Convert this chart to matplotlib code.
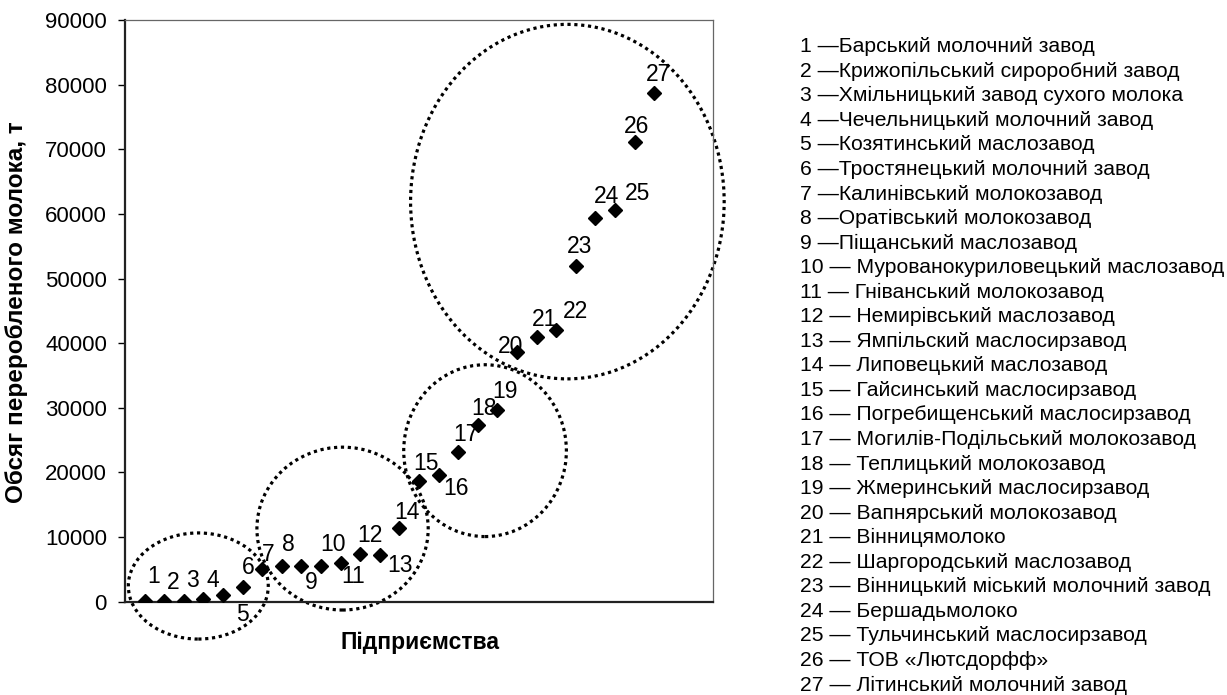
import matplotlib
matplotlib.use("Agg")
import matplotlib.pyplot as plt
from matplotlib.patches import Ellipse

plt.rcParams['font.family'] = ['Liberation Sans', 'DejaVu Sans']

# ---- data ----
plant_ids = list(range(1, 28))
milk_volume_t = [50, 80, 150, 400, 1100, 2200, 5100, 5500, 5500, 5550,
                 5950, 7350, 7300, 11400, 18600, 19600, 23100, 27300, 29700, 38600,
                 41000, 42100, 52000, 59300, 60600, 71100, 78700]
plant_names = [
    "Барський молочний завод",
    "Крижопільський сироробний завод",
    "Хмільницький завод сухого молока",
    "Чечельницький молочний завод",
    "Козятинський маслозавод",
    "Тростянецький молочний завод",
    "Калинівський молокозавод",
    "Оратівський молокозавод",
    "Піщанський маслозавод",
    "Мурованокуриловецький маслозавод",
    "Гніванський молокозавод",
    "Немирівський маслозавод",
    "Ямпільский маслосирзавод",
    "Липовецький маслозавод",
    "Гайсинський маслосирзавод",
    "Погребищенський маслосирзавод",
    "Могилів-Подільський молокозавод",
    "Теплицький молокозавод",
    "Жмеринський маслосирзавод",
    "Вапнярський молокозавод",
    "Вінницямолоко",
    "Шаргородський маслозавод",
    "Вінницький міський молочний завод",
    "Бершадьмолоко",
    "Тульчинський маслосирзавод",
    "ТОВ «Лютсдорфф»",
    "Літинський молочний завод",
]
y_ticks = [0, 10000, 20000, 30000, 40000, 50000, 60000, 70000, 80000, 90000]
y_label = "Обсяг переробленого молока, т"
x_label = "Підприємства"

# cluster ellipses (center x, center y, width, height) in data units
clusters = [
    (3.74, 2430, 7.14, 16420),
    (11.1, 11310, 8.74, 25200),
    (18.37, 23370, 8.3, 26590),
    (22.57, 61900, 16.0, 54850),
]

# label offsets in pixels (dx right, dy down)
label_offsets = [(9, -25), (9, -19), (9, -20), (9, -19), (19, 20), (6, -20),
                 (6, -14), (7, -22), (10, 16), (12, -21), (13, 13), (10, -19),
                 (20, 11), (8, -16), (7, -18), (17, 13), (8, -18), (6, -17),
                 (8, -18), (-6, -6), (8, -17), (19, -18), (4, -19), (11, -22),
                 (23, -17), (2, -16), (4, -19)]

W, H = 1227, 695
fig = plt.figure(figsize=(W / 100, H / 100), dpi=100)
ax = fig.add_axes([125 / W, (H - 601.7) / H, (713 - 125) / W, (601.7 - 20) / H])

ax.plot(plant_ids, milk_volume_t, linestyle='none', marker='D', markersize=7.2,
        color='black', zorder=3)

for pid, val, (dx, dy) in zip(plant_ids, milk_volume_t, label_offsets):
    ax.annotate(str(pid), (pid, val), xytext=(dx, -dy), textcoords='offset pixels',
                ha='center', va='center', fontsize=16.5, zorder=4,
                annotation_clip=False)

for cx, cy, w, h in clusters:
    e = Ellipse((cx, cy), w, h, fill=False, edgecolor='black', linewidth=2.3,
                linestyle=(0, (1.0, 1.15)), clip_on=False, zorder=2)
    e.set_capstyle('butt')
    ax.add_patch(e)

ax.set_xlim(0, 30)
ax.set_ylim(0, 90000)
ax.set_yticks(y_ticks)
ax.set_yticklabels([str(t) for t in y_ticks], fontsize=16)
ax.set_xticks([])
ax.tick_params(axis='y', direction='out', length=5, width=1, pad=8)
for side in ('left', 'bottom'):
    ax.spines[side].set_linewidth(1.6)
    ax.spines[side].set_color('#222222')
for side in ('top', 'right'):
    ax.spines[side].set_linewidth(0.9)
    ax.spines[side].set_color('#666666')

fig.text(17 / W, (H - 312) / H, y_label, rotation=90, ha='center', va='center',
         fontsize=17.5, fontweight='bold')
fig.text(420 / W, (H - 643) / H, x_label, ha='center', va='center',
         fontsize=16.5, fontweight='bold')

for i, (pid, name) in enumerate(zip(plant_ids, plant_names)):
    sep = " —" if pid < 10 else " — "
    fig.text(800 / W, (H - (46.7 + i * 24.55)) / H, f"{pid}{sep}{name}",
             ha='left', va='center', fontsize=15.2)

fig.savefig("out.png", dpi=100)
